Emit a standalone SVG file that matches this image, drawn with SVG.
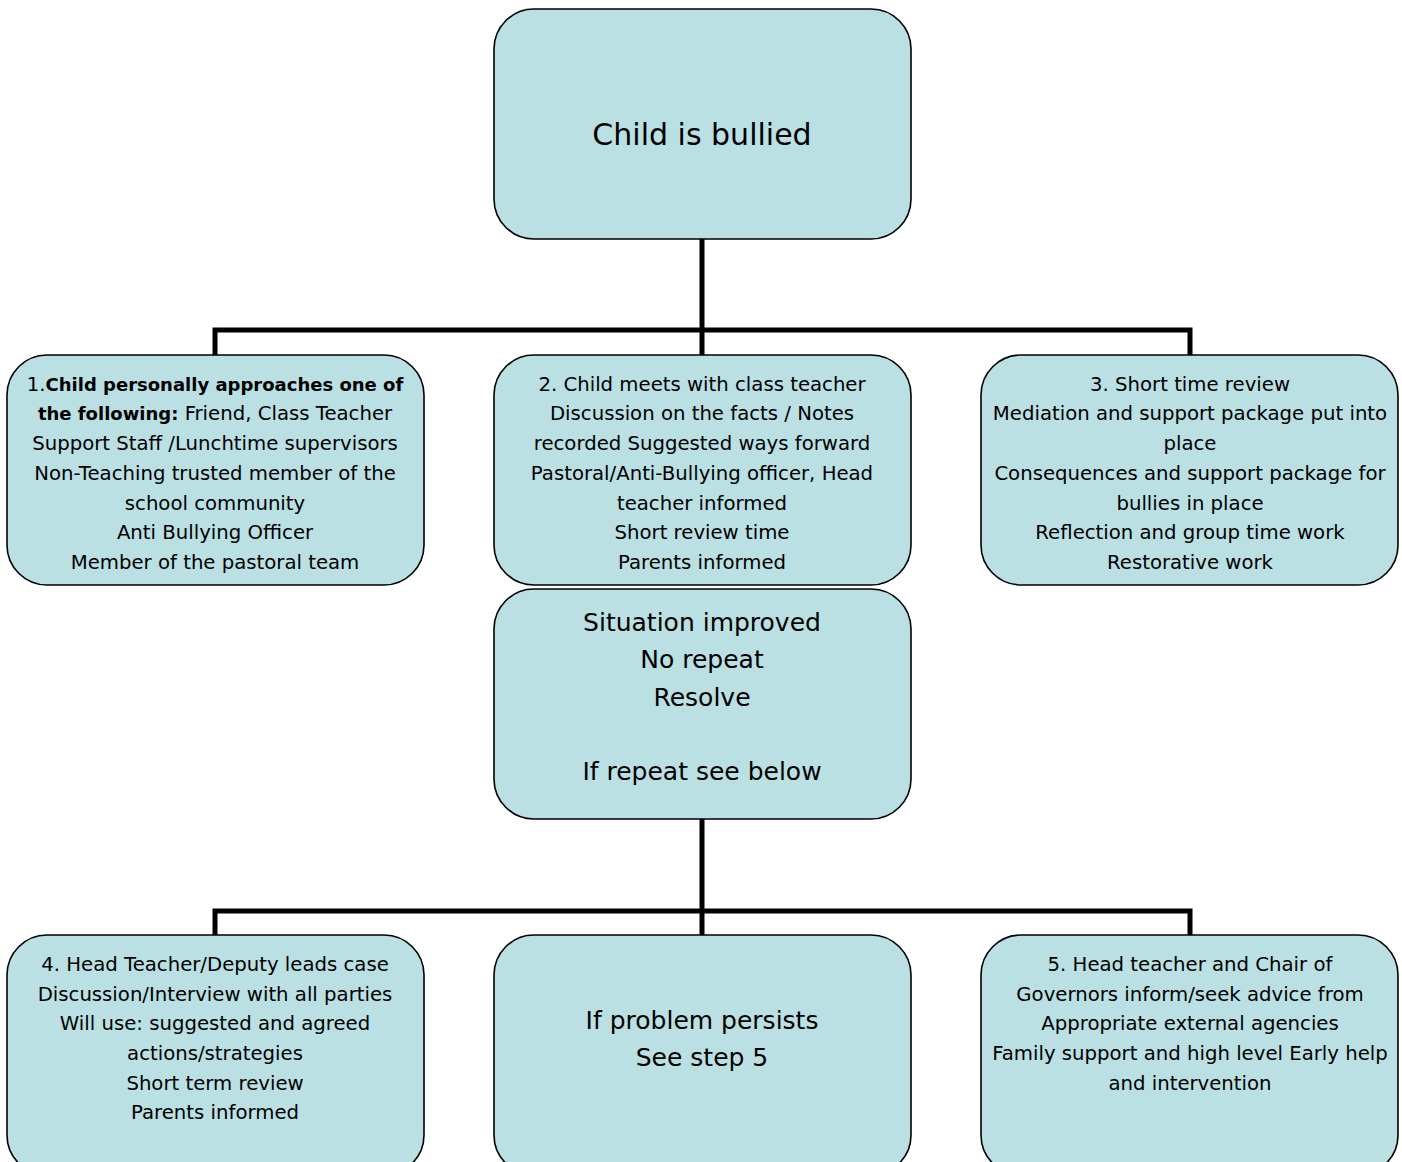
<svg xmlns="http://www.w3.org/2000/svg" width="1402" height="1162" viewBox="0 0 1402 1162">
<style>
.box{fill:#bae0e3;stroke:#000;stroke-width:1.6}
.t{font-family:"Comic Sans MS","DejaVu Sans","Noto Sans",sans-serif;font-size:19.7px;fill:#000;text-anchor:middle}
.m{font-size:25px}
.b{font-weight:bold;font-size:18px}
.con{stroke:#000;stroke-width:5;fill:none}
</style>
<rect width="1402" height="1162" fill="#fff"/>
<g id="connectors">
<path class="con" d="M702 239V355M215 355V330H1190V355"/>
<path class="con" d="M702 819V935M215 935V911H1190V935"/>
</g>
<g id="n0">
<rect class="box" x="494" y="9" width="417" height="230" rx="40"/>
<text class="t" x="702" y="145" style="font-size:30px">Child is bullied</text>
</g>
<g id="n1">
<rect class="box" x="7" y="355" width="417" height="230" rx="40"/>
<text class="t" x="215" y="391">1.<tspan class="b">Child personally approaches one of</tspan></text>
<text class="t" x="215" y="420"><tspan class="b">the following:</tspan> Friend, Class Teacher</text>
<text class="t" x="215" y="450">Support Staff /Lunchtime supervisors</text>
<text class="t" x="215" y="480">Non-Teaching trusted member of the</text>
<text class="t" x="215" y="510">school community</text>
<text class="t" x="215" y="539">Anti Bullying Officer</text>
<text class="t" x="215" y="569">Member of the pastoral team</text>
</g>
<g id="n2">
<rect class="box" x="494" y="355" width="417" height="230" rx="40"/>
<text class="t" x="702" y="391">2. Child meets with class teacher</text>
<text class="t" x="702" y="420">Discussion on the facts / Notes</text>
<text class="t" x="702" y="450">recorded Suggested ways forward</text>
<text class="t" x="702" y="480">Pastoral/Anti-Bullying officer, Head</text>
<text class="t" x="702" y="510">teacher informed</text>
<text class="t" x="702" y="539">Short review time</text>
<text class="t" x="702" y="569">Parents informed</text>
</g>
<g id="n3">
<rect class="box" x="981" y="355" width="417" height="230" rx="40"/>
<text class="t" x="1190" y="391">3. Short time review</text>
<text class="t" x="1190" y="420">Mediation and support package put into</text>
<text class="t" x="1190" y="450">place</text>
<text class="t" x="1190" y="480">Consequences and support package for</text>
<text class="t" x="1190" y="510">bullies in place</text>
<text class="t" x="1190" y="539">Reflection and group time work</text>
<text class="t" x="1190" y="569">Restorative work</text>
</g>
<g id="n4">
<rect class="box" x="494" y="589" width="417" height="230" rx="40"/>
<text class="t m" x="702" y="631">Situation improved</text>
<text class="t m" x="702" y="668">No repeat</text>
<text class="t m" x="702" y="706">Resolve</text>
<text class="t m" x="702" y="780">If repeat see below</text>
</g>
<g id="n5">
<rect class="box" x="7" y="935" width="417" height="240" rx="40"/>
<text class="t" x="215" y="971">4. Head Teacher/Deputy leads case</text>
<text class="t" x="215" y="1001">Discussion/Interview with all parties</text>
<text class="t" x="215" y="1030">Will use: suggested and agreed</text>
<text class="t" x="215" y="1060">actions/strategies</text>
<text class="t" x="215" y="1090">Short term review</text>
<text class="t" x="215" y="1119">Parents informed</text>
</g>
<g id="n6">
<rect class="box" x="494" y="935" width="417" height="240" rx="40"/>
<text class="t m" x="702" y="1029">If problem persists</text>
<text class="t m" x="702" y="1066">See step 5</text>
</g>
<g id="n7">
<rect class="box" x="981" y="935" width="417" height="240" rx="40"/>
<text class="t" x="1190" y="971">5. Head teacher and Chair of</text>
<text class="t" x="1190" y="1001">Governors inform/seek advice from</text>
<text class="t" x="1190" y="1030">Appropriate external agencies</text>
<text class="t" x="1190" y="1060">Family support and high level Early help</text>
<text class="t" x="1190" y="1090">and intervention</text>
</g>
</svg>
